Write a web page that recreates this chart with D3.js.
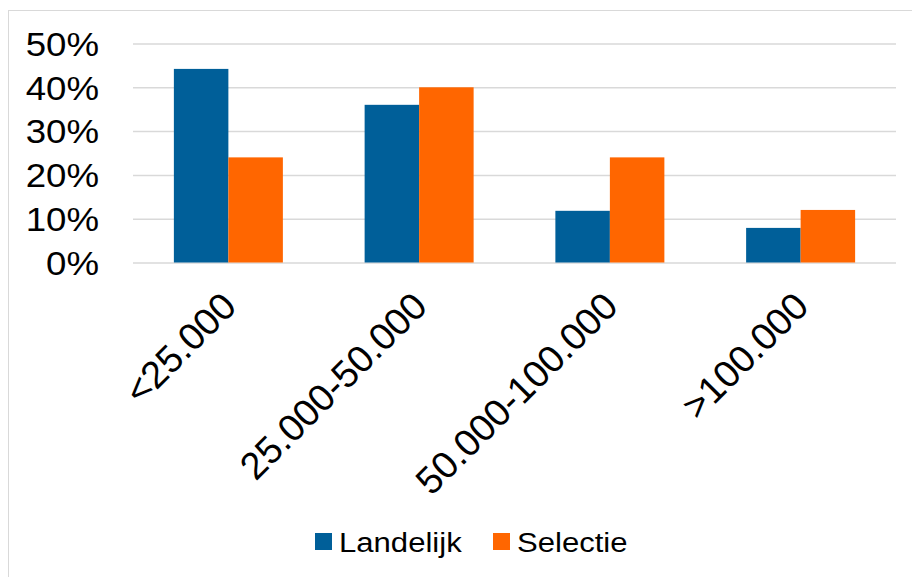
<!DOCTYPE html>
<html>
<head>
<meta charset="utf-8">
<script src="https://cdn.jsdelivr.net/npm/d3@7"></script>
<style>
  body { margin: 0; background: #fff; }
  text { font-family: "Liberation Sans", Arial, sans-serif; fill: #000; }
</style>
</head>
<body>
<div id="chart"></div>
<script>
var categories = ["<25.000", "25.000-50.000", "50.000-100.000", ">100.000"];
var seriesNames = ["Landelijk", "Selectie"];
var landelijk = [0.442, 0.36, 0.118, 0.079];
var selectie = [0.24, 0.40, 0.24, 0.12];
var yTicks = [0, 0.1, 0.2, 0.3, 0.4, 0.5];
var colors = ["#005f99", "#ff6600"];

var width = 912, height = 577;
var margin = { left: 133, right: 16, top: 43.5, bottom: 314.5 };
var innerW = width - margin.left - margin.right;
var innerH = height - margin.top - margin.bottom;

var data = categories.map(function (c, i) {
    return { cat: c, values: [landelijk[i], selectie[i]] };
});

var svg = d3.select("#chart").append("svg")
    .attr("width", width)
    .attr("height", height);

// frame
svg.append("rect")
    .attr("x", 8.5).attr("y", 10.5)
    .attr("width", width + 10).attr("height", height + 10)
    .attr("fill", "none")
    .attr("stroke", "#d9d9d9");

var g = svg.append("g")
    .attr("transform", "translate(" + margin.left + "," + margin.top + ")");

var x = d3.scaleBand()
    .domain(categories)
    .range([0, innerW])
    .paddingInner(0)
    .paddingOuter(0);

var x1 = d3.scaleBand()
    .domain(seriesNames)
    .range([0, x.bandwidth()])
    .paddingInner(0)
    .paddingOuter(0.75);

var y = d3.scaleLinear()
    .domain([0, 0.5])
    .range([innerH, 0]);

// gridlines
g.append("g")
    .call(d3.axisLeft(y).tickValues(yTicks).tickSize(-innerW).tickFormat(""))
    .call(function (s) {
        s.select(".domain").remove();
        s.selectAll("line").attr("stroke", "#d9d9d9").attr("stroke-width", 1.5);
    });

// y labels (slightly wide, like the original)
g.append("g")
    .call(d3.axisLeft(y).tickValues(yTicks).tickSize(0)
        .tickFormat(d3.format(".0%")))
    .call(function (s) {
        s.select(".domain").remove();
        s.selectAll("text")
            .attr("font-size", 33)
            .attr("x", 0)
            .attr("dy", "0.36em")
            .attr("transform", "translate(-34,0) scale(1.11,1)");
    });

// bars
var groups = g.selectAll(".grp")
    .data(data)
    .enter()
    .append("g")
    .attr("class", "grp")
    .attr("transform", function (d) { return "translate(" + x(d.cat) + ",0)"; });

groups.selectAll("rect")
    .data(function (d) { return d.values.map(function (v, i) { return { s: seriesNames[i], v: v, i: i }; }); })
    .enter()
    .append("rect")
    .attr("x", function (d) { return x1(d.s); })
    .attr("y", function (d) { return y(d.v); })
    .attr("width", x1.bandwidth())
    .attr("height", function (d) { return innerH - y(d.v); })
    .attr("fill", function (d) { return colors[d.i]; });

// x labels
g.append("g")
    .attr("transform", "translate(0," + innerH + ")")
    .call(d3.axisBottom(x).tickSize(0).tickPadding(0))
    .call(function (s) {
        s.select(".domain").remove();
        s.selectAll("text")
            .attr("font-size", 38)
            .attr("text-anchor", "end")
            .attr("dy", 0)
            .attr("y", 0)
            .attr("transform", "translate(10,46) rotate(-45)");
    });

// legend
var legend = svg.append("g").attr("transform", "translate(315,533)");
var legendX = [0, 178];
seriesNames.forEach(function (name, i) {
    var lg = legend.append("g").attr("transform", "translate(" + legendX[i] + ",0)");
    lg.append("rect")
        .attr("width", 17).attr("height", 17)
        .attr("fill", colors[i]);
    lg.append("text")
        .attr("transform", "translate(24,18.5) scale(1.11,1)")
        .attr("font-size", 28)
        .text(name);
});
</script>
</body>
</html>
